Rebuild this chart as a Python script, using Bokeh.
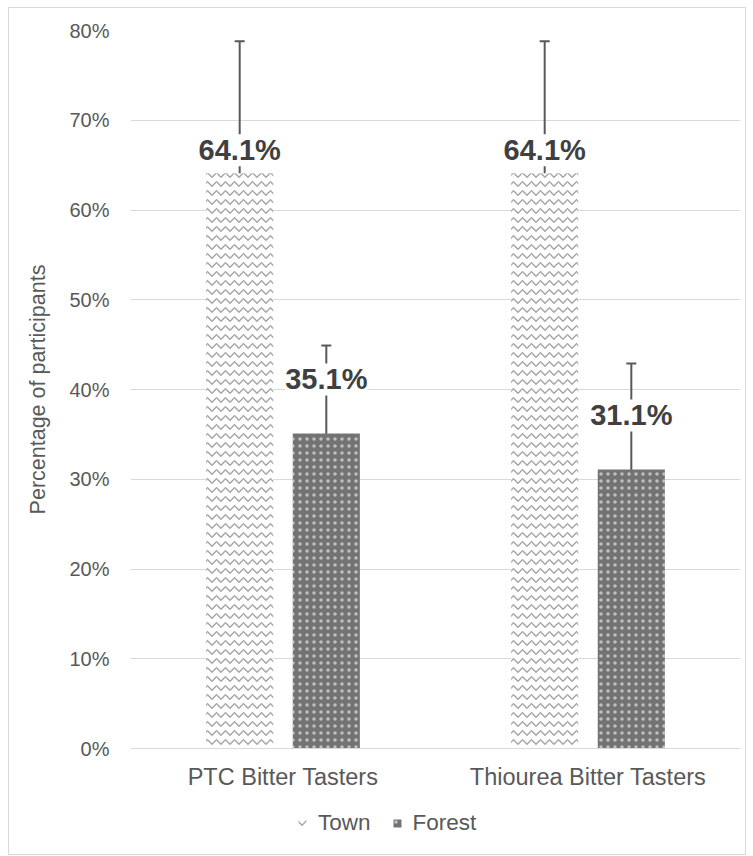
from bokeh.plotting import figure
from bokeh.layouts import column
from bokeh.models import (ColumnDataSource, FactorRange, NumeralTickFormatter, FixedTicker,
                          Whisker, TeeHead, LabelSet, Legend, LegendItem)
from bokeh.core.properties import value
from bokeh.transform import dodge
from bokeh.embed import file_html
from bokeh.resources import INLINE

categories = ["PTC Bitter Tasters", "Thiourea Bitter Tasters"]
series = ["Town", "Forest"]
town = [0.641, 0.641]
forest = [0.351, 0.311]
town_upper = [0.788, 0.788]
town_lower = [0.472, 0.472]
forest_upper = [0.449, 0.429]
forest_lower = [0.244, 0.207]
town_labels = ["64.1%", "64.1%"]
forest_labels = ["35.1%", "31.1%"]
y_ticks = [0.0, 0.1, 0.2, 0.3, 0.4, 0.5, 0.6, 0.7, 0.8]

FONT = "Liberation Sans"
GREY = "#595959"
TOWN_STYLE = dict(fill_color="white", line_color=None, hatch_pattern="horizontal_wave",
                  hatch_color="#a6a6a6", hatch_scale=9, hatch_weight=1.5)
FOREST_STYLE = dict(fill_color="#737373", line_color=None, hatch_pattern="dot",
                    hatch_color="white", hatch_alpha=0.55, hatch_scale=7, hatch_weight=3)

src = ColumnDataSource(dict(cat=categories, town=town, forest=forest,
                            tu=town_upper, tl=town_lower,
                            fu=forest_upper, fl=forest_lower,
                            tlab=town_labels, flab=forest_labels))

p = figure(x_range=FactorRange(factors=categories), y_range=(0, 0.8),
           width=736, height=785, output_backend="svg", toolbar_location=None,
           min_border_left=121, min_border_right=5, min_border_top=22, min_border_bottom=45)
p.outline_line_color = None
p.background_fill_color = "white"
p.border_fill_color = "white"

W = 0.22
OFF = 0.142
p.vbar(x=dodge("cat", -OFF, range=p.x_range), top="town", width=W, source=src, **TOWN_STYLE)
p.vbar(x=dodge("cat", OFF, range=p.x_range), top="forest", width=W, source=src, **FOREST_STYLE)

for up, lo, off in (("tu", "tl", -OFF), ("fu", "fl", OFF)):
    w = Whisker(base=dodge("cat", off, range=p.x_range), upper=up, lower=lo, source=src,
                line_color="#595959", line_width=2,
                upper_head=TeeHead(size=10, line_color="#595959", line_width=2),
                lower_head=TeeHead(size=10, line_color="#595959", line_width=2))
    p.add_layout(w)

for col, lab, off, yoff in (("town", "tlab", -OFF, 13), ("forest", "flab", OFF, 44)):
    ls = LabelSet(x=dodge("cat", off, range=p.x_range), y=col, text=lab, source=src,
                  text_align="center", text_baseline="alphabetic", y_offset=yoff,
                  text_font=value(FONT), text_font_size=value("29px"),
                  text_font_style=value("bold"),
                  text_color=value("#404040"), background_fill_color=value("white"))
    p.add_layout(ls)

p.yaxis.ticker = FixedTicker(ticks=y_ticks)
p.yaxis.formatter = NumeralTickFormatter(format="0%")
p.yaxis.axis_line_color = None
p.yaxis.major_tick_line_color = None
p.yaxis.minor_tick_line_color = None
p.yaxis.major_label_standoff = 15
p.yaxis.major_label_text_font = FONT
p.yaxis.major_label_text_font_size = "20px"
p.yaxis.major_label_text_color = GREY
p.yaxis.axis_label = "Percentage of participants"
p.yaxis.axis_label_text_font = FONT
p.yaxis.axis_label_text_font_size = "21.5px"
p.yaxis.axis_label_text_font_style = "normal"
p.yaxis.axis_label_text_color = GREY
p.yaxis.axis_label_standoff = 16

p.xaxis.axis_line_color = "#d9d9d9"
p.xaxis.major_tick_line_color = None
p.xaxis.minor_tick_line_color = None
p.xaxis.major_label_standoff = 9
p.xaxis.major_label_text_font = FONT
p.xaxis.major_label_text_font_size = "23.5px"
p.xaxis.major_label_text_color = GREY

p.xgrid.grid_line_color = None
p.ygrid.grid_line_color = "#d9d9d9"
p.ygrid.grid_line_width = 1

# legend strip below the chart (its bars lie outside its visible y range)
pl = figure(width=736, height=61, output_backend="svg", toolbar_location=None,
            x_axis_location=None, y_axis_location=None,
            x_range=FactorRange(factors=categories), y_range=(5, 6), min_border=0)
pl.outline_line_color = None
pl.grid.grid_line_color = None
pl.border_fill_color = "white"
pl.background_fill_color = "white"
lt = pl.vbar(x=dodge("cat", -OFF, range=pl.x_range), top="town", width=W, source=src, **TOWN_STYLE)
lf = pl.vbar(x=dodge("cat", OFF, range=pl.x_range), top="forest", width=W, source=src, **FOREST_STYLE)
legend = Legend(items=[LegendItem(label=series[0], renderers=[lt]),
                       LegendItem(label=series[1], renderers=[lf])],
                orientation="horizontal", location=(167, 18),
                glyph_width=10, glyph_height=10, label_standoff=11, spacing=21,
                padding=0, margin=0, border_line_color=None, background_fill_alpha=0,
                label_text_font=FONT, label_text_font_size="22.5px", label_text_color=GREY)
pl.add_layout(legend)

layout = column(p, pl, spacing=0)
layout.styles = {"border": "1px solid #d9d9d9", "margin-left": "8px", "margin-top": "7px",
                 "background-color": "white"}

open("out.html", "w").write(file_html(layout, INLINE))
